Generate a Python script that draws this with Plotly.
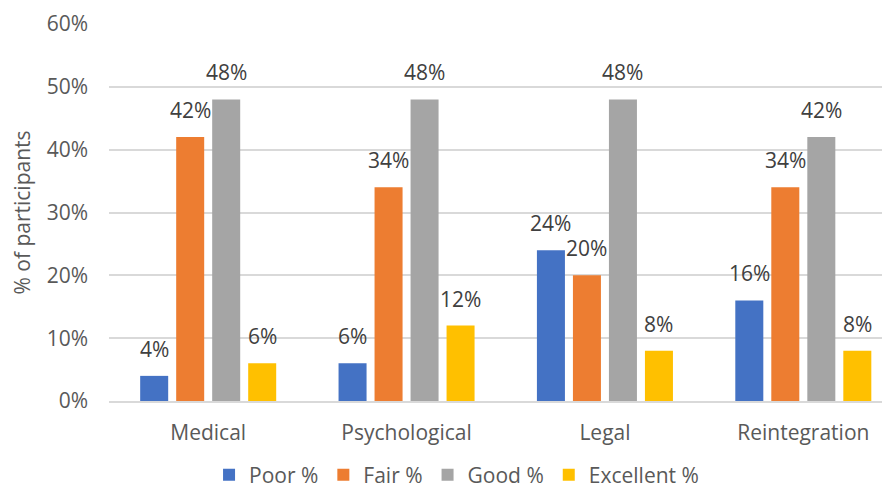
import plotly.graph_objects as go

categories = ["Medical", "Psychological", "Legal", "Reintegration"]
series_names = ["Poor %", "Fair %", "Good %", "Excellent %"]
poor = [0.04, 0.06, 0.24, 0.16]
fair = [0.42, 0.34, 0.20, 0.34]
good = [0.48, 0.48, 0.48, 0.42]
excellent = [0.06, 0.12, 0.08, 0.08]
colors = ["#4472C4", "#ED7D31", "#A5A5A5", "#FFC000"]
y_ticks = [0, 0.1, 0.2, 0.3, 0.4, 0.5, 0.6]

all_series = [poor, fair, good, excellent]
FONT = "Open Sans"

fig = go.Figure()
for name, vals, col in zip(series_names, all_series, colors):
    fig.add_trace(go.Bar(
        x=categories, y=vals, name=name,
        marker=dict(color=col, line=dict(width=0)),
        hoverinfo="skip",
    ))

# data labels above each bar
slot = 36
for i, vals in enumerate(all_series):
    for cat, v in zip(categories, vals):
        fig.add_annotation(
            x=cat, y=v, text=f"{round(v*100)}%",
            xref="x", yref="y", showarrow=False,
            xshift=(i - 1.5) * slot, yanchor="bottom", yshift=11,
            font=dict(family=FONT, size=21, color="#404040"),
        )

# the page body adds an 8px offset, margins compensate for it
fig.update_layout(
    width=890, height=492,
    margin=dict(l=101, r=8, t=16, b=99, autoexpand=False),
    paper_bgcolor="white", plot_bgcolor="white",
    barmode="group", bargap=0.274, bargroupgap=0.222,
    font=dict(family=FONT, size=21, color="#595959"),
    showlegend=True,
    legend=dict(
        orientation="h", x=0.445, xanchor="center",
        yref="container", y=1 - 467 / 492, yanchor="middle",
        font=dict(family=FONT, size=21, color="#595959"),
        itemclick=False, itemdoubleclick=False,
    ),
    xaxis=dict(
        type="category", range=[-0.5, 3.437], automargin=False,
        showgrid=False, showline=True, linecolor="#d9d9d9", linewidth=1.5,
        ticks="", ticklabelstandoff=12,
        tickfont=dict(family=FONT, size=21, color="#595959"),
    ),
    yaxis=dict(
        range=[0, 0.6], tickvals=y_ticks, tickformat=".0%", automargin=False,
        showgrid=True, gridcolor="#d9d9d9", gridwidth=1.5,
        zeroline=False, showline=False, ticks="",
        ticklabelstandoff=20,
        tickfont=dict(family=FONT, size=21, color="#595959"),
        title=dict(text="% of participants", standoff=10,
                   font=dict(family=FONT, size=21, color="#595959")),
    ),
)

fig.write_html("out.html")
